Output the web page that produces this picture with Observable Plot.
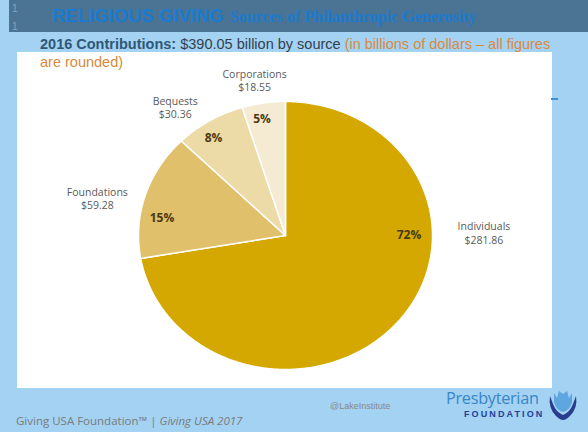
<!DOCTYPE html>
<html>
<head>
<meta charset="utf-8">
<script src="https://cdn.jsdelivr.net/npm/d3@7"></script>
<script src="https://cdn.jsdelivr.net/npm/@observablehq/plot@0.6"></script>
<style>
  html, body { margin: 0; padding: 0; }
  body { width: 588px; height: 432px; position: relative; overflow: hidden; background: #a3d2f3; font-family: "Liberation Sans", Arial, sans-serif; }
  .abs { position: absolute; white-space: nowrap; }
  #band { left: 9px; top: 0; width: 579px; height: 32px; background: #4a7394; }
  .num { color: #8aa3b8; font-size: 10px; left: 12px; }
  #title { left: 52px; top: 5px; color: #1b7ccf; font-weight: bold; font-size: 18.5px; }
  #title span { font-family: "Liberation Serif", "DejaVu Serif", serif; font-size: 16px; margin-left: 2px; }
  #panel { left: 17px; top: 52px; width: 535px; height: 336px; background: #fff; }
  #sub { left: 40px; top: 35px; font-size: 14.5px; line-height: 18px; color: #333f4c; z-index: 3; }
  #sub b { color: #2f5877; }
  #sub .or { color: #d98a3d; }
  #chart { left: 17px; top: 52px; z-index: 2; }
  #dash { left: 551px; top: 98px; width: 7px; height: 2px; background: #3d8fd8; }
  #foot { left: 16px; top: 413px; font-family: "Open Sans", sans-serif; font-size: 11.5px; color: #7b7b7b; }
  #lake { left: 330px; top: 401px; font-size: 9px; color: #888; }
  #pres { left: 446px; top: 387px; font-family: "Open Sans", sans-serif; font-size: 16.3px; color: #3b86c6; letter-spacing: -0.3px; }
  #fdn { left: 464px; top: 409px; font-size: 9px; font-weight: bold; color: #22409a; letter-spacing: 2.1px; }
  #logo { left: 548px; top: 390px; }
</style>
</head>
<body>
<div class="abs" id="band"></div>
<div class="abs num" style="top:3px">1</div>
<div class="abs num" style="top:21px">1</div>
<div class="abs" id="title">RELIGIOUS GIVING<span> Sources of Philanthropic Generosity</span></div>
<div class="abs" id="panel"></div>
<div class="abs" id="dash"></div>
<div class="abs" id="sub"><b>2016 Contributions:</b> $390.05 billion by source <span class="or">(in billions of dollars – all figures<br>are rounded)</span></div>
<div class="abs" id="chart"></div>
<div class="abs" id="foot">Giving USA Foundation™ | <i>Giving USA 2017</i></div>
<div class="abs" id="lake">@LakeInstitute</div>
<div class="abs" id="pres">Presbyterian</div>
<div class="abs" id="fdn">FOUNDATION</div>
<svg class="abs" id="logo" width="30" height="32" viewBox="0 0 30 32">
  <path d="M15 4 L11 1 L9 8 L6 3 L6 12 Q8 20 15 22 Q22 20 24 12 L24 3 L21 8 L19 1 Z" fill="#5ea6e0"/>
  <path d="M2 6 Q0 18 8 26 Q12 30 15 30 L15 25 Q8 22 5 14 Z" fill="#283d8f"/>
  <path d="M28 6 Q30 18 22 26 Q18 30 15 30 L15 25 Q22 22 25 14 Z" fill="#283d8f"/>
</svg>
<script>
// ---- data ----
const categories = ["Individuals", "Foundations", "Bequests", "Corporations"];
const amounts = [281.86, 59.28, 30.36, 18.55];
const percentLabels = ["72%", "15%", "8%", "5%"];
const amountLabels = ["$281.86", "$59.28", "$30.36", "$18.55"];
const sliceColors = ["#d4a800", "#e0c06a", "#ecdba6", "#f5ebd2"];

// ---- label layout (unit-pie coordinates) ----
const pctPos = [[0.84, 0.0], [-0.84, 0.13], [-0.49, 0.73], [-0.16, 0.87]];
const namePos = [[1.35, 0.02], [-1.28, 0.28], [-0.75, 0.96], [-0.21, 1.16]];

const arcs = d3.pie().sort(null).value(d => d)(amounts);
const slices = arcs.map((a, i) => {
  const pts = [{x: 0, y: 0}];
  const n = Math.max(2, Math.ceil((a.endAngle - a.startAngle) / 0.01));
  for (let k = 0; k <= n; k++) {
    const t = a.startAngle + (a.endAngle - a.startAngle) * k / n;
    pts.push({x: Math.sin(t), y: Math.cos(t)});
  }
  return pts;
});

const pctData = categories.map((c, i) => ({x: pctPos[i][0], y: pctPos[i][1], t: percentLabels[i]}));
const nameData = categories.map((c, i) => ({x: namePos[i][0], y: namePos[i][1], t: c + "\n" + amountLabels[i]}));

const chart = Plot.plot({
  width: 535,
  height: 336,
  x: {domain: [-1, 1], range: [121, 415], axis: null},
  y: {domain: [-1, 1], range: [317, 49], axis: null},
  style: {background: "transparent", overflow: "visible"},
  marks: [
    ...slices.map((pts, i) => Plot.line(pts, {x: "x", y: "y", fill: sliceColors[i], stroke: "white", strokeWidth: 1.5, curve: "linear-closed"})),
    Plot.text(pctData, {x: "x", y: "y", text: "t", fontSize: 12, fontWeight: "bold", fill: "#4a3a14", fontFamily: "Open Sans, sans-serif"}),
    Plot.text(nameData, {x: "x", y: "y", text: "t", fontSize: 10.5, fill: "#5a5a5a", lineHeight: 1.25, fontFamily: "Open Sans, sans-serif"})
  ]
});
document.getElementById("chart").appendChild(chart);
</script>
</body>
</html>
